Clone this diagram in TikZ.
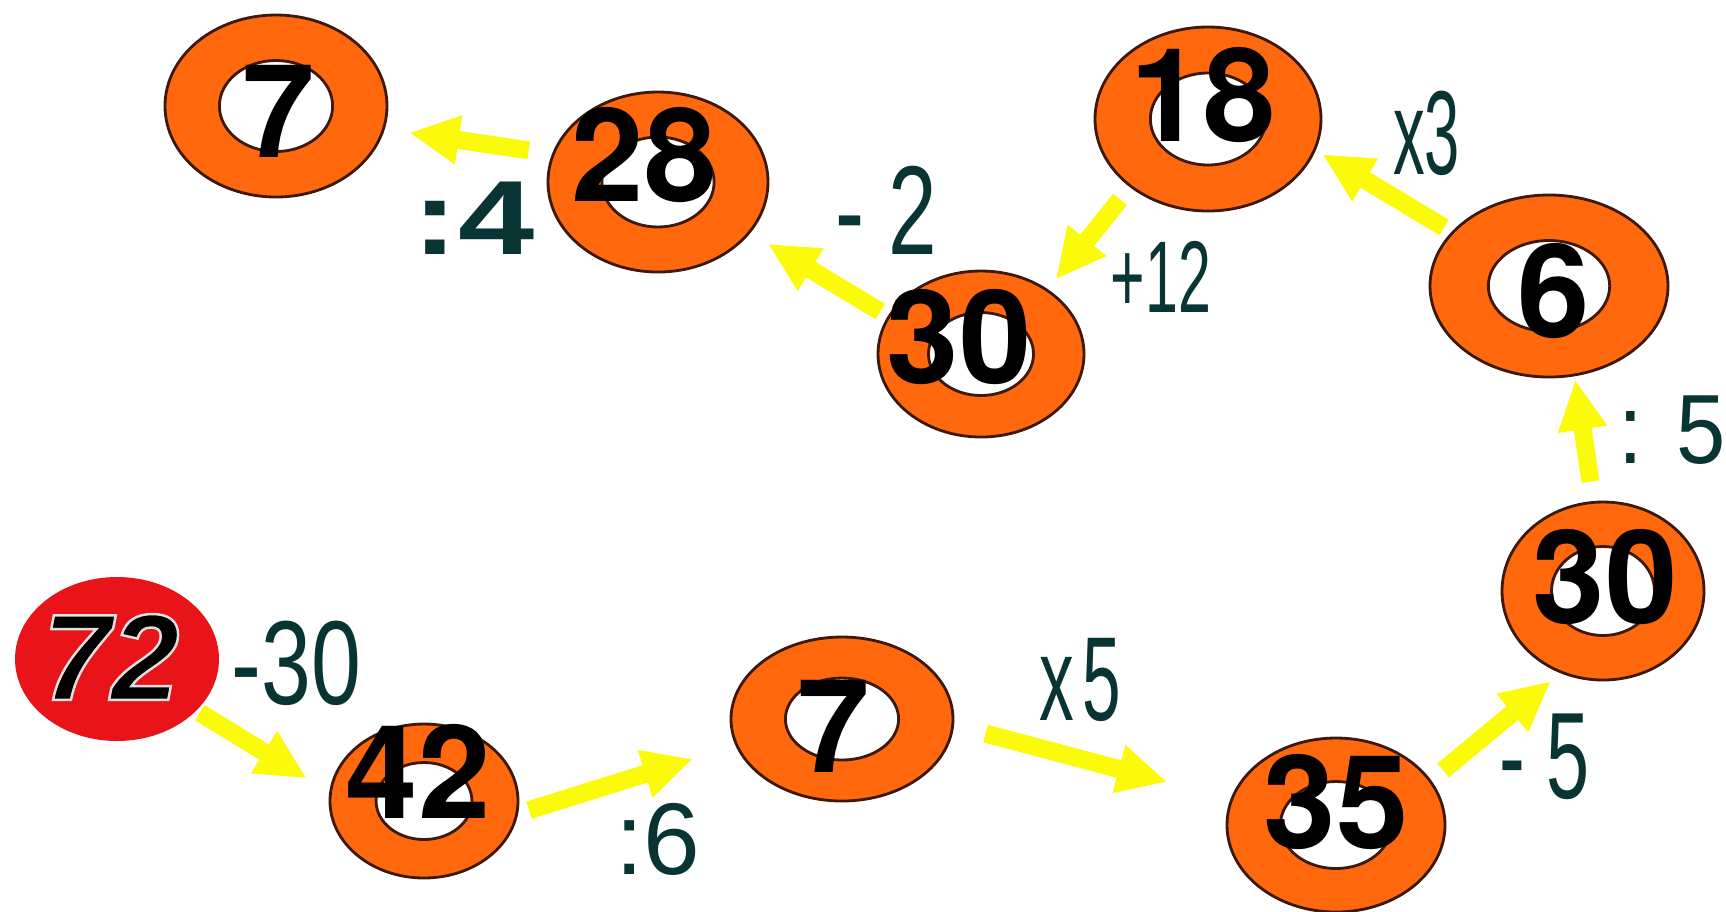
\documentclass[tikz,border=0pt]{standalone}
\usepackage{fontspec}
\setmainfont{Liberation Sans}
\newfontfamily\figfont{TeX Gyre Heros}
\newfontface\startface[FakeBold=2]{Liberation Sans Bold Italic}
\usepackage{graphicx}
\usetikzlibrary{arrows.meta, calc, shapes.geometric}

\definecolor{ringorange}{RGB}{255,104,12}
\definecolor{ringline}{RGB}{60,25,10}
\definecolor{startred}{RGB}{232,20,26}
\definecolor{arrowyellow}{RGB}{250,250,10}
\definecolor{opteal}{RGB}{8,52,52}

% squeezed operation text
\newcommand{\opsq}[2]{\scalebox{#1}[1]{#2}}
% black figures with a light grey rim
\newcommand{\rimmed}[1]{\special{pdf:bcolor [0 0 0] [0.88 0.88 0.88]}#1\special{pdf:ecolor}}

\begin{document}
\begin{tikzpicture}[
  ring/.style = {ellipse, draw=ringline, line width=0.8pt, fill=ringorange, inner sep=0pt, outer sep=0pt,
    path picture={\draw[ringline, line width=0.8pt, fill=white]
      let \p1=(path picture bounding box.north east), \p2=(path picture bounding box.center) in
      (\p2) ellipse [x radius={0.51*(\x1-\x2)}, y radius={0.5*(\y1-\y2)}];}},
  start/.style = {ellipse, fill=startred, inner sep=0pt, outer sep=0pt},
  num/.style = {font=\fontsize{37}{37}\figfont\bfseries, inner sep=0pt},
  op/.style = {text=opteal, inner sep=0pt, font=\fontsize{#1}{#1}\selectfont},
  flow/.style = {draw=arrowyellow, line width=0.18cm, -{Triangle[length=0.5cm, width=0.46cm]}}
]
\useasboundingbox (0,0) rectangle (17.26,-9.11);

% the chain of values
\node[start, minimum width=2.04cm, minimum height=1.64cm] (1) at (1.17,-6.59) {};
\node[ring, minimum width=1.88cm, minimum height=1.54cm] (2) at (4.24,-8.01) {};
\node[ring, minimum width=2.22cm, minimum height=1.64cm] (3) at (8.42,-7.19) {};
\node[ring, minimum width=2.18cm, minimum height=1.74cm] (4) at (13.36,-8.25) {};
\node[ring, minimum width=2.02cm, minimum height=1.78cm] (5) at (16.03,-5.91) {};
\node[ring, minimum width=2.38cm, minimum height=1.82cm] (6) at (15.49,-2.86) {};
\node[ring, minimum width=2.26cm, minimum height=1.84cm] (7) at (12.08,-1.19) {};
\node[ring, minimum width=2.06cm, minimum height=1.66cm] (8) at (9.81,-3.54) {};
\node[ring, minimum width=2.20cm, minimum height=1.80cm] (9) at (6.58,-1.82) {};
\node[ring, minimum width=2.22cm, minimum height=1.82cm] (10) at (2.76,-1.06) {};

\node[inner sep=0pt, font=\fontsize{35}{35}\startface] (v1) at ([shift={(-0.06,0.02)}]1.center) {\rimmed{72}};
\node[num] (v2) at ([shift={(-0.06,0.30)}]2.center) {42};
\node[num] (v3) at ([shift={(-0.08,-0.07)}]3.center) {7};
\node[num] (v4) at ([shift={(0,0.23)}]4.center) {35};
\node[num] (v5) at ([shift={(0.02,0.14)}]5.center) {30};
\node[num] (v6) at ([shift={(0.05,-0.05)}]6.center) {6};
\node[num] (v7) at ([shift={(-0.05,0.24)}]7.center) {18};
\node[num] (v8) at ([shift={(-0.22,0.17)}]8.center) {30};
\node[num] (v9) at ([shift={(-0.14,0.27)}]9.center) {28};
\node[num] (v10) at ([shift={(0.03,-0.05)}]10.center) {7};

% steps
\draw[flow, shorten <=0.04cm, shorten >=0.28cm] (1.-33) -- node[op=34, midway, shift={(0.33,0.88)}] (o1) {\opsq{0.75}{-30}} (2.175);
\draw[flow, shorten <=0.13cm, shorten >=0.46cm] (2.-8) -- node[op=29, midway, shift={(0.31,-0.60)}] (o2) {\opsq{1}{:6}} (3.194);
\draw[flow, shorten <=0.34cm, shorten >=0.67cm] (3.-3) -- node[op=34, midway, shift={(-0.12,0.82)}] (o3) {\opsq{0.58}{x\kern0.12em 5}} (4.166);
\draw[flow, shorten <=0.17cm, shorten >=0.14cm] (4.25) -- node[op=35, midway, shift={(0.49,-0.30)}] (o4) {\opsq{0.63}{- 5}} (5.243);
\draw[flow, shorten <=0.21cm, shorten >=0.05cm] (5.96) -- node[op=28, midway, shift={(0.88,0.09)}] (o5) {\opsq{0.9}{: 5}} (6.-74);
\draw[flow, shorten <=0.10cm, shorten >=0.09cm] (6.151) -- node[op=34, midway, shift={(0.43,0.58)}] (o6) {\opsq{0.53}{x3}} (7.-16);
\draw[flow, shorten <=0.17cm, shorten >=0.14cm] (7.221) -- node[op=29, midway, shift={(0.72,-0.39)}] (o7) {\opsq{0.58}{+12}} (8.44);
\draw[flow, shorten <=0.10cm, shorten >=0.22cm] (8.158) -- node[op=36, midway, shift={(0.67,0.64)}] (o8) {\opsq{0.69}{- 2}} (9.-29);
\draw[flow, shorten <=0.25cm, shorten >=0.26cm] (9.165) -- node[op=30, midway, shift={(0.05,-0.77)}] (o9) {\opsq{1.3}{\bfseries :4}} (10.-12);
\end{tikzpicture}
\end{document}
